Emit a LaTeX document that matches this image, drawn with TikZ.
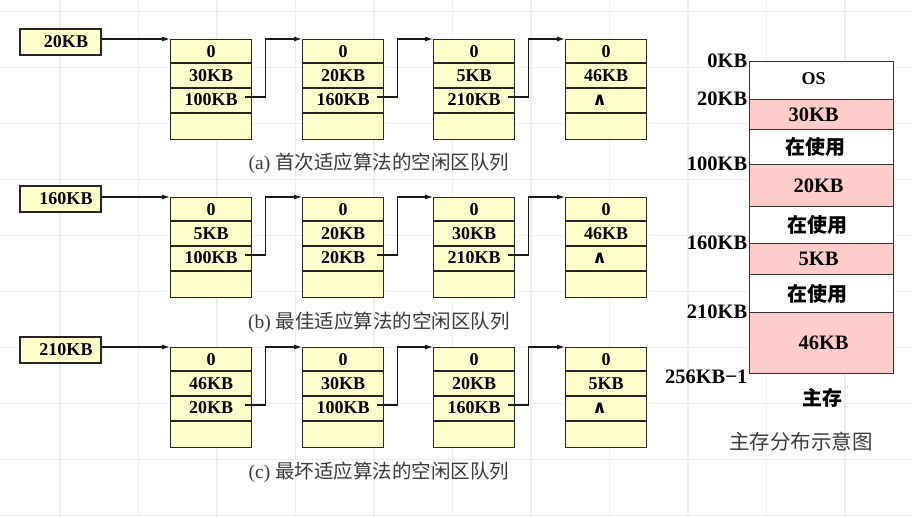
\documentclass[tikz,border=0pt]{standalone}
\usepackage{fontspec}
\setmainfont{Liberation Serif}
\newfontfamily\cjk{Noto Sans CJK SC}
\newfontfamily\symf{DejaVu Sans}
\usetikzlibrary{arrows.meta}
\definecolor{cellfill}{HTML}{FFFFCC}
\definecolor{memfree}{HTML}{FFCCCC}
\definecolor{gridc}{HTML}{EEEEEE}
\definecolor{capc}{HTML}{3A3A3A}
\tikzset{
  gridline/.style={draw=gridc, line width=1.2pt},
  cell/.style={draw=black!85, fill=cellfill, line width=1.2pt, minimum width=81pt, minimum height=100pt, inner sep=0pt},
  cellline/.style={draw=black!85, line width=1.1pt},
  celltext/.style={inner sep=0pt, font=\fontsize{18}{18}\selectfont\bfseries},
  headbox/.style={draw=black!85, fill=cellfill, line width=1.2pt, minimum width=81pt, minimum height=26pt, inner sep=0pt, font=\fontsize{18}{18}\selectfont\bfseries},
  link/.style={draw=black!90, line width=1.1pt},
  linkarrow/.style={link, -{Latex[length=8pt,width=5pt]}},
  seg/.style={draw=black!80, line width=1.1pt, minimum width=144pt, inner sep=0pt, anchor=north west},
  segtext/.style={font=\fontsize{20.5}{20.5}\selectfont\bfseries},
  segcjk/.style={font=\cjk\bfseries\fontsize{20}{20}\selectfont},
  memlabel/.style={anchor=east, inner sep=1.5pt, font=\fontsize{20.5}{20.5}\selectfont\bfseries},
  caption/.style={text=capc, font=\fontsize{19.5}{20}\selectfont},
}
\newcommand\listnode[6]{%
  \node[cell, anchor=north west] (#1) at (#2,#3) {};
  \draw[cellline] ([yshift=-24pt]#1.north west) -- ([yshift=-24pt]#1.north east);
  \draw[cellline] ([yshift=-49pt]#1.north west) -- ([yshift=-49pt]#1.north east);
  \draw[cellline] ([yshift=-74pt]#1.north west) -- ([yshift=-74pt]#1.north east);
  \node[celltext] (#1-1) at ([yshift=-12.5pt]#1.north) {#4};
  \node[celltext] (#1-2) at ([yshift=-36.5pt]#1.north) {#5};
  \node[celltext] (#1-3) at ([yshift=-61pt]#1.north) {#6};
}
\newcommand\nextlink[2]{%
  \draw[linkarrow] ([xshift=75pt,yshift=-58pt]#1.north west) -- ([xshift=13pt,yshift=-58pt]#1.north east) -- ([xshift=13pt]#1.north east) -- (#2.north west);
}
\newcommand\nilmark{\hspace{-13pt}{\symf\bfseries\fontsize{18}{18}\selectfont ∧}}
\begin{document}
\begin{tikzpicture}[x=1pt,y=-1pt]
\useasboundingbox (0,0) rectangle (912,518);
\fill[white] (0,0) rectangle (912,518);
% background grid
\foreach \i in {0,...,10} \draw[gridline] (60+78.5*\i,0) -- (60+78.5*\i,518);
\foreach \j in {0,...,9} \draw[gridline] (0,11.7+56*\j) -- (912,11.7+56*\j);

% ---------- (a) first fit ----------
\node[headbox] (ha) at (60.5,42) {\hspace{11pt}20KB};
\listnode{a1}{170}{39}{0}{30KB}{100KB}
\listnode{a2}{302}{39}{0}{20KB}{160KB}
\listnode{a3}{433}{39}{0}{5KB}{210KB}
\listnode{a4}{565}{39}{0}{46KB}{\nilmark}
\draw[linkarrow] (ha.east |- a1.north west) -- (a1.north west);
\nextlink{a1}{a2}
\nextlink{a2}{a3}
\nextlink{a3}{a4}
\node[caption] (capa) at (379,163) {(a) {\cjk 首次适应算法的空闲区队列}};

% ---------- (b) best fit ----------
\node[headbox] (hb) at (60.5,199) {\hspace{11pt}160KB};
\listnode{b1}{170}{197}{0}{5KB}{100KB}
\listnode{b2}{302}{197}{0}{20KB}{20KB}
\listnode{b3}{433}{197}{0}{30KB}{210KB}
\listnode{b4}{565}{197}{0}{46KB}{\nilmark}
\draw[linkarrow] (hb.east |- b1.north west) -- (b1.north west);
\nextlink{b1}{b2}
\nextlink{b2}{b3}
\nextlink{b3}{b4}
\node[caption] (capb) at (379,322) {(b) {\cjk 最佳适应算法的空闲区队列}};

% ---------- (c) worst fit ----------
\node[headbox] (hc) at (60.5,350) {\hspace{11pt}210KB};
\listnode{c1}{170}{347}{0}{46KB}{20KB}
\listnode{c2}{302}{347}{0}{30KB}{100KB}
\listnode{c3}{433}{347}{0}{20KB}{160KB}
\listnode{c4}{565}{347}{0}{5KB}{\nilmark}
\draw[linkarrow] (hc.east |- c1.north west) -- (c1.north west);
\nextlink{c1}{c2}
\nextlink{c2}{c3}
\nextlink{c3}{c4}
\node[caption] (capc) at (379,472) {(c) {\cjk 最坏适应算法的空闲区队列}};

% ---------- main memory map ----------
\node[seg, fill=white,   minimum height=38pt] (m1) at (749,61) {};
\node[seg, fill=memfree, minimum height=30pt] (m2) at (749,99) {};
\node[seg, fill=white,   minimum height=35pt] (m3) at (749,129) {};
\node[seg, fill=memfree, minimum height=42pt] (m4) at (749,164) {};
\node[seg, fill=white,   minimum height=37pt] (m5) at (749,206) {};
\node[seg, fill=memfree, minimum height=31pt] (m6) at (749,243) {};
\node[seg, fill=white,   minimum height=38pt] (m7) at (749,274) {};
\node[seg, fill=memfree, minimum height=61pt] (m8) at (749,312) {};
\node[segtext, font=\fontsize{18}{18}\selectfont\bfseries] (t1) at ([xshift=-8pt,yshift=2pt]m1.center) {OS};
\node[segtext] (t2) at ([xshift=-8pt]m2.center) {30KB};
\node[segcjk]  (t3) at ([xshift=-6pt]m3.center) {在使用};
\node[segtext] (t4) at ([xshift=-3pt]m4.center) {20KB};
\node[segcjk]  (t5) at ([xshift=-4pt]m5.center) {在使用};
\node[segtext] (t6) at ([xshift=-3pt]m6.center) {5KB};
\node[segcjk]  (t7) at ([xshift=-4pt]m7.center) {在使用};
\node[segtext] (t8) at ([xshift=2pt]m8.center) {46KB};
\node[memlabel] (l1) at (m1.north west) {0KB};
\node[memlabel] (l2) at (m2.north west) {20KB};
\node[memlabel] (l3) at (m4.north west) {100KB};
\node[memlabel] (l4) at (m6.north west) {160KB};
\node[memlabel] (l5) at (m8.north west) {210KB};
\node[memlabel] (l6) at ([yshift=-3pt]m8.south west) {256KB−1};
\node[segcjk] (mem) at (822,398) {主存};
\node[text=capc, font=\cjk\fontsize{20.5}{21}\selectfont] (capm) at (801,442) {主存分布示意图};
\end{tikzpicture}
\end{document}
